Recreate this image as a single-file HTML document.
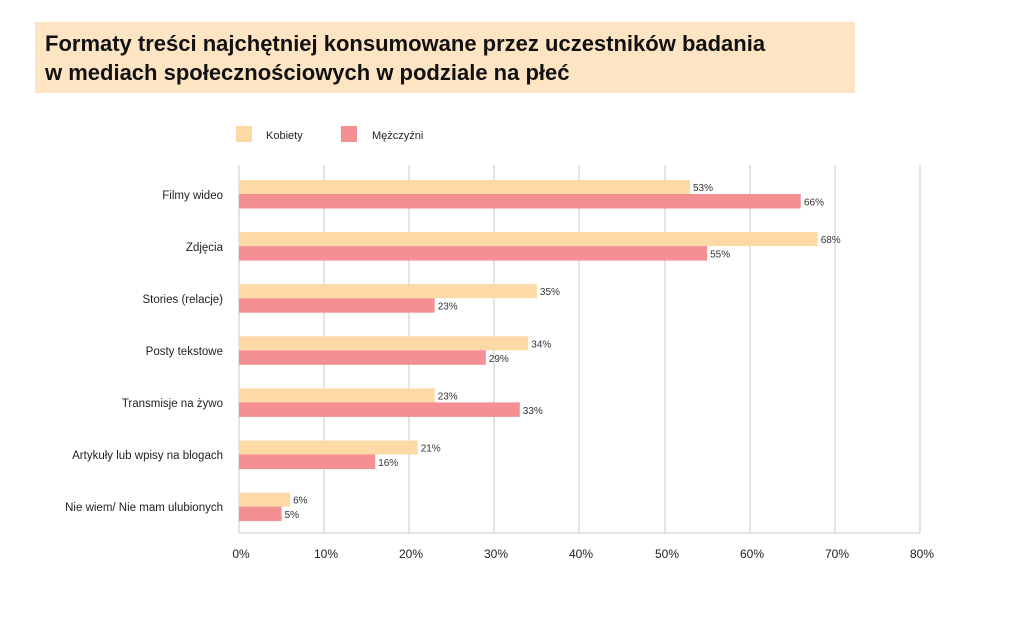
<!DOCTYPE html>
<html><head><meta charset="utf-8"><style>
body{margin:0;background:#fff;width:1024px;height:638px;overflow:hidden;font-family:"Liberation Sans","DejaVu Sans",sans-serif}
</style></head><body>
<svg width="1024" height="638" xmlns="http://www.w3.org/2000/svg" font-family="Liberation Sans, DejaVu Sans, sans-serif">
<rect x="35" y="22" width="820" height="71" fill="#fde5c3"/>
<text x="45" y="51" font-size="22" font-weight="bold" fill="#111">Formaty treści najchętniej konsumowane przez uczestników badania</text>
<text x="45" y="80" font-size="22" font-weight="bold" fill="#111">w mediach społecznościowych w podziale na płeć</text>
<rect x="236" y="126" width="16" height="16" fill="#fdd9a6"/>
<text x="266" y="139" font-size="11" fill="#222">Kobiety</text>
<rect x="341" y="126" width="16" height="16" fill="#f49093"/>
<text x="372" y="139" font-size="11" fill="#222">Mężczyźni</text>
<g stroke="#c8c8c8" stroke-width="1">
<line x1="324" y1="165" x2="324" y2="533"/><line x1="409" y1="165" x2="409" y2="533"/>
<line x1="494" y1="165" x2="494" y2="533"/><line x1="579" y1="165" x2="579" y2="533"/>
<line x1="665" y1="165" x2="665" y2="533"/><line x1="750" y1="165" x2="750" y2="533"/>
<line x1="835" y1="165" x2="835" y2="533"/><line x1="920" y1="165" x2="920" y2="533"/>
<line x1="239" y1="165" x2="239" y2="533"/><line x1="239" y1="533" x2="920" y2="533"/>
</g>
<g font-size="12" fill="#222" text-anchor="middle">
<text x="241" y="558">0%</text><text x="326" y="558">10%</text><text x="411" y="558">20%</text><text x="496" y="558">30%</text><text x="581" y="558">40%</text><text x="667" y="558">50%</text><text x="752" y="558">60%</text><text x="837" y="558">70%</text><text x="922" y="558">80%</text>
</g>
<g font-size="11.5" fill="#222" text-anchor="end">
<text x="223" y="199">Filmy wideo</text>
<text x="223" y="251">Zdjęcia</text>
<text x="223" y="303">Stories (relacje)</text>
<text x="223" y="355">Posty tekstowe</text>
<text x="223" y="407">Transmisje na żywo</text>
<text x="223" y="459">Artykuły lub wpisy na blogach</text>
<text x="223" y="511">Nie wiem/ Nie mam ulubionych</text>
</g>
<g fill="#fdd9a6">
<rect x="239" y="180" width="451" height="14"/>
<rect x="239" y="232.1" width="578.7" height="14"/>
<rect x="239" y="284.2" width="297.9" height="14"/>
<rect x="239" y="336.3" width="289.3" height="14"/>
<rect x="239" y="388.4" width="195.7" height="14"/>
<rect x="239" y="440.5" width="178.7" height="14"/>
<rect x="239" y="492.6" width="51.1" height="14"/>
</g>
<g fill="#f49093">
<rect x="239" y="194" width="561.7" height="14.5"/>
<rect x="239" y="246.1" width="468.1" height="14.5"/>
<rect x="239" y="298.2" width="195.7" height="14.5"/>
<rect x="239" y="350.3" width="246.8" height="14.5"/>
<rect x="239" y="402.4" width="280.8" height="14.5"/>
<rect x="239" y="454.5" width="136.2" height="14.5"/>
<rect x="239" y="506.6" width="42.6" height="14.5"/>
</g>
<g font-size="10" fill="#333">
<text x="693" y="191">53%</text><text x="804" y="205.5">66%</text>
<text x="820.7" y="243.1">68%</text><text x="710.1" y="257.6">55%</text>
<text x="539.9" y="295.2">35%</text><text x="437.7" y="309.7">23%</text>
<text x="531.3" y="347.3">34%</text><text x="488.8" y="361.8">29%</text>
<text x="437.7" y="399.4">23%</text><text x="522.8" y="413.9">33%</text>
<text x="420.7" y="451.5">21%</text><text x="378.2" y="466">16%</text>
<text x="293.1" y="503.6">6%</text><text x="284.6" y="518.1">5%</text>
</g>
</svg>
</body></html>
